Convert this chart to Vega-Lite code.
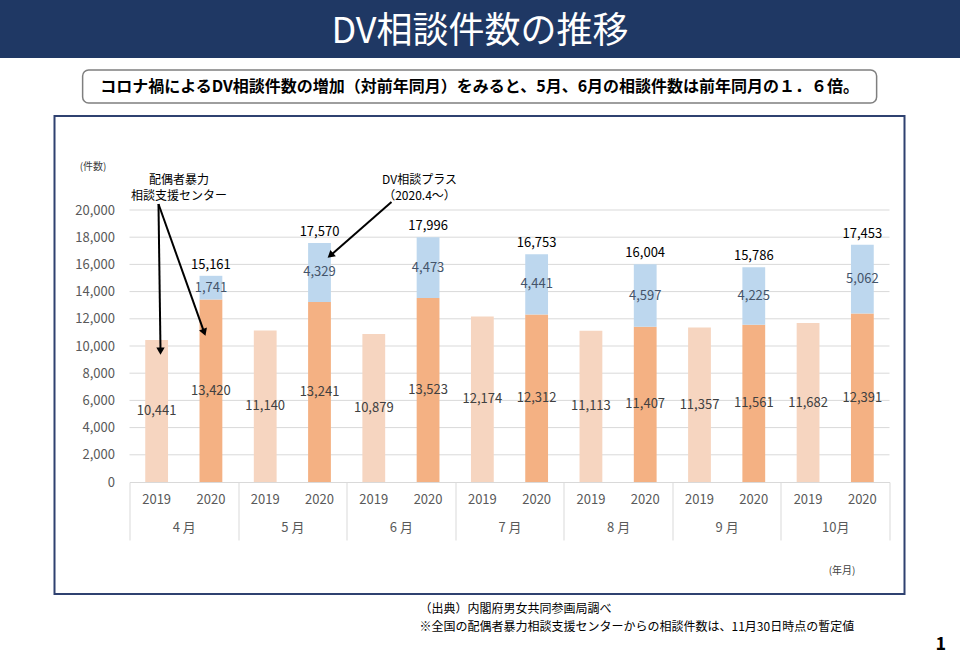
{
  "$schema": "https://vega.github.io/schema/vega-lite/v6.json",
  "padding": 0,
  "background": "white",
  "datasets": {
    "dv": [
      {"period": "2019-04", "year": "2019", "month": "4 月", "series": "2019", "count": 10441},
      {"period": "2020-04", "year": "2020", "month": "4 月", "series": "2020センター", "count": 13420},
      {"period": "2020-04", "year": "2020", "month": "4 月", "series": "2020プラス", "count": 1741},
      {"period": "2019-05", "year": "2019", "month": "5 月", "series": "2019", "count": 11140},
      {"period": "2020-05", "year": "2020", "month": "5 月", "series": "2020センター", "count": 13241},
      {"period": "2020-05", "year": "2020", "month": "5 月", "series": "2020プラス", "count": 4329},
      {"period": "2019-06", "year": "2019", "month": "6 月", "series": "2019", "count": 10879},
      {"period": "2020-06", "year": "2020", "month": "6 月", "series": "2020センター", "count": 13523},
      {"period": "2020-06", "year": "2020", "month": "6 月", "series": "2020プラス", "count": 4473},
      {"period": "2019-07", "year": "2019", "month": "7 月", "series": "2019", "count": 12174},
      {"period": "2020-07", "year": "2020", "month": "7 月", "series": "2020センター", "count": 12312},
      {"period": "2020-07", "year": "2020", "month": "7 月", "series": "2020プラス", "count": 4441},
      {"period": "2019-08", "year": "2019", "month": "8 月", "series": "2019", "count": 11113},
      {"period": "2020-08", "year": "2020", "month": "8 月", "series": "2020センター", "count": 11407},
      {"period": "2020-08", "year": "2020", "month": "8 月", "series": "2020プラス", "count": 4597},
      {"period": "2019-09", "year": "2019", "month": "9 月", "series": "2019", "count": 11357},
      {"period": "2020-09", "year": "2020", "month": "9 月", "series": "2020センター", "count": 11561},
      {"period": "2020-09", "year": "2020", "month": "9 月", "series": "2020プラス", "count": 4225},
      {"period": "2019-10", "year": "2019", "month": "10月", "series": "2019", "count": 11682},
      {"period": "2020-10", "year": "2020", "month": "10月", "series": "2020センター", "count": 12391},
      {"period": "2020-10", "year": "2020", "month": "10月", "series": "2020プラス", "count": 5062}
    ],
    "grid": [
      {"value": 2000}, {"value": 4000}, {"value": 6000}, {"value": 8000}, {"value": 10000},
      {"value": 12000}, {"value": 14000}, {"value": 16000}, {"value": 18000}, {"value": 20000}
    ],
    "arrows": [
      {"u1": 0.534, "v1": 20441, "u2": 0.571, "v2": 9706},
      {"u1": 0.534, "v1": 20441, "u2": 1.369, "v2": 11081},
      {"u1": 4.826, "v1": 20588, "u2": 3.717, "v2": 16713}
    ],
    "heads": [
      {"name": "a1", "u": 0.571, "v": 9706},
      {"name": "a2", "u": 1.369, "v": 11081},
      {"name": "a3", "u": 3.717, "v": 16713}
    ],
    "notes": [
      {"u": 0.912, "v": 22240, "label": "配偶者暴力\n相談支援センター"},
      {"u": 5.342, "v": 22170, "label": "DV相談プラス\n（2020.4～）"}
    ]
  },
  "title": {"text": "1", "orient": "bottom", "anchor": "end", "frame": "bounds", "fontSize": 18, "fontWeight": "bold", "color": "#000000", "dx": -14, "offset": 2},
  "spacing": 11,
  "center": true,
  "vconcat": [
    {
      "width": 960,
      "height": 58,
      "view": {"fill": "#1f3864", "stroke": null},
      "data": {"values": [{"t": "DV相談件数の推移"}]},
      "mark": {"type": "text", "color": "#ffffff", "fontSize": 36, "fontWeight": "normal", "align": "center", "baseline": "middle", "dy": 3},
      "encoding": {"text": {"field": "t", "type": "nominal"}}
    },
    {
      "width": 794,
      "height": 33,
      "view": {"fill": "#ffffff", "stroke": "#7f7f7f", "strokeWidth": 1.5, "cornerRadius": 6},
      "data": {"values": [{"t": "コロナ禍によるDV相談件数の増加（対前年同月）をみると、5月、6月の相談件数は前年同月の１．６倍。"}]},
      "mark": {"type": "text", "color": "#000000", "fontSize": 16, "fontWeight": "bold", "align": "center", "baseline": "middle"},
      "encoding": {"text": {"field": "t", "type": "nominal"}}
    },
    {
      "width": 850,
      "height": 478,
      "view": {"fill": "#ffffff", "stroke": "#2f4170", "strokeWidth": 2},
      "title": {
        "text": ["（出典）内閣府男女共同参画局調べ", "※全国の配偶者暴力相談支援センターからの相談件数は、11月30日時点の暫定値"],
        "orient": "bottom", "anchor": "start", "dx": 365, "offset": 10,
        "fontSize": 12, "fontWeight": "normal", "color": "#000000", "lineHeight": 18
      },
      "resolve": {"scale": {"x": "independent"}},
      "layer": [
        {
          "data": {"name": "grid"},
          "mark": {"type": "rule", "color": "#d9d9d9", "strokeWidth": 1},
          "encoding": {
            "x": {"datum": 0, "type": "quantitative", "scale": {"domain": [0, 14], "range": [75, 835]}, "axis": null},
            "x2": {"datum": 14},
            "y": {
              "field": "value", "type": "quantitative",
              "scale": {"domain": [0, 20000], "range": [366, 94], "nice": false, "zero": true},
              "axis": {
                "offset": -75, "values": [0, 2000, 4000, 6000, 8000, 10000, 12000, 14000, 16000, 18000, 20000],
                "labelExpr": "format(datum.value, ',')", "grid": false, "domain": false, "ticks": false, "tickSize": 0, "labelPadding": 15,
                "labelFontSize": 13, "labelColor": "#595959",
                "title": "(件数)", "titleAngle": 0, "titleX": -37, "titleY": 50, "titleAlign": "center", "titleBaseline": "middle",
                "titleFontSize": 10, "titleFontWeight": "normal", "titleColor": "#404040"
              }
            }
          }
        },
        {
          "data": {"name": "dv"},
          "mark": {"type": "rule", "opacity": 0},
          "encoding": {
            "x": {
              "field": "month", "type": "nominal",
              "scale": {"domain": ["4 月", "5 月", "6 月", "7 月", "8 月", "9 月", "10月"], "range": [75, 835], "paddingInner": 0, "paddingOuter": 0},
              "axis": {
                "orient": "bottom", "offset": -112, "tickBand": "extent", "ticks": true, "tickSize": 58,
                "tickColor": "#d9d9d9", "tickWidth": 1, "domain": false, "grid": false,
                "labelPadding": -19, "labelFontSize": 13, "labelColor": "#595959", "labelAngle": 0, "title": null
              }
            }
          }
        },
        {
          "data": {"name": "dv"},
          "mark": {"type": "bar"},
          "encoding": {
            "x": {
              "field": "period", "type": "nominal",
              "scale": {"domain": ["2019-04", "2020-04", "2019-05", "2020-05", "2019-06", "2020-06", "2019-07", "2020-07", "2019-08", "2020-08", "2019-09", "2020-09", "2019-10", "2020-10"], "range": [75, 835], "paddingInner": 0.58, "paddingOuter": 0.29},
              "axis": {
                "orient": "bottom", "offset": -112, "labelExpr": "substring(datum.value, 0, 4)",
                "ticks": false, "tickSize": 0, "domain": true, "domainColor": "#d9d9d9", "grid": false,
                "labelPadding": 11, "labelFontSize": 13, "labelColor": "#595959", "labelAngle": 0,
                "title": "(年月)", "titleX": 787, "titleY": 88, "titleAlign": "center", "titleBaseline": "middle",
                "titleFontSize": 10, "titleFontWeight": "normal", "titleColor": "#404040"
              }
            },
            "y": {"field": "count", "type": "quantitative", "stack": "zero"},
            "color": {
              "field": "series", "type": "nominal",
              "scale": {"domain": ["2019", "2020センター", "2020プラス"], "range": ["#f6d5c0", "#f4b183", "#bdd7ee"]},
              "legend": null
            },
            "order": {"field": "series", "type": "ordinal", "sort": "ascending"}
          }
        },
        {
          "data": {"name": "dv"},
          "mark": {"type": "text", "fontSize": 13, "align": "center", "baseline": "middle"},
          "encoding": {
            "x": {
              "field": "period", "type": "nominal",
              "scale": {"domain": ["2019-04", "2020-04", "2019-05", "2020-05", "2019-06", "2020-06", "2019-07", "2020-07", "2019-08", "2020-08", "2019-09", "2020-09", "2019-10", "2020-10"], "range": [75, 835], "paddingInner": 0.58, "paddingOuter": 0.29},
              "axis": null
            },
            "y": {"field": "count", "type": "quantitative", "stack": "zero", "bandPosition": 0.5},
            "detail": {"field": "series", "type": "nominal"},
            "order": {"field": "series", "type": "ordinal", "sort": "ascending"},
            "text": {"field": "count", "type": "quantitative", "format": ","},
            "color": {"condition": {"test": "datum.series == '2020プラス'", "value": "#44546a"}, "value": "#404040"}
          }
        },
        {
          "data": {"name": "dv"},
          "transform": [{"filter": "datum.year == '2020'"}],
          "mark": {"type": "text", "fontSize": 13, "align": "center", "baseline": "middle", "dy": -11, "color": "#000000"},
          "encoding": {
            "x": {
              "field": "period", "type": "nominal",
              "scale": {"domain": ["2019-04", "2020-04", "2019-05", "2020-05", "2019-06", "2020-06", "2019-07", "2020-07", "2019-08", "2020-08", "2019-09", "2020-09", "2019-10", "2020-10"], "range": [75, 835], "paddingInner": 0.58, "paddingOuter": 0.29},
              "axis": null
            },
            "y": {"aggregate": "sum", "field": "count", "type": "quantitative"},
            "text": {"aggregate": "sum", "field": "count", "type": "quantitative", "format": ","}
          }
        },
        {
          "data": {"name": "arrows"},
          "mark": {"type": "rule", "color": "#000000", "strokeWidth": 2},
          "encoding": {
            "x": {"field": "u1", "type": "quantitative", "scale": {"domain": [0, 14], "range": [75, 835]}, "axis": null},
            "x2": {"field": "u2"},
            "y": {"field": "v1", "type": "quantitative"},
            "y2": {"field": "v2"}
          }
        },
        {
          "data": {"name": "heads"},
          "mark": {"type": "point", "shape": "triangle", "filled": true, "size": 70, "color": "#000000", "opacity": 1},
          "encoding": {
            "x": {"field": "u", "type": "quantitative", "scale": {"domain": [0, 14], "range": [75, 835]}, "axis": null},
            "y": {"field": "v", "type": "quantitative"},
            "angle": {
              "condition": [
                {"test": "datum.name == 'a1'", "value": 180},
                {"test": "datum.name == 'a2'", "value": 160}
              ],
              "value": 229
            }
          }
        },
        {
          "data": {"name": "notes"},
          "mark": {"type": "text", "fontSize": 12, "align": "center", "baseline": "middle", "color": "#000000", "lineBreak": "\n", "lineHeight": 16},
          "encoding": {
            "x": {"field": "u", "type": "quantitative", "scale": {"domain": [0, 14], "range": [75, 835]}, "axis": null},
            "y": {"field": "v", "type": "quantitative"},
            "text": {"field": "label", "type": "nominal"}
          }
        }
      ]
    }
  ],
  "config": {
    "font": "Noto Sans CJK JP",
    "view": {"stroke": null}
  }
}
